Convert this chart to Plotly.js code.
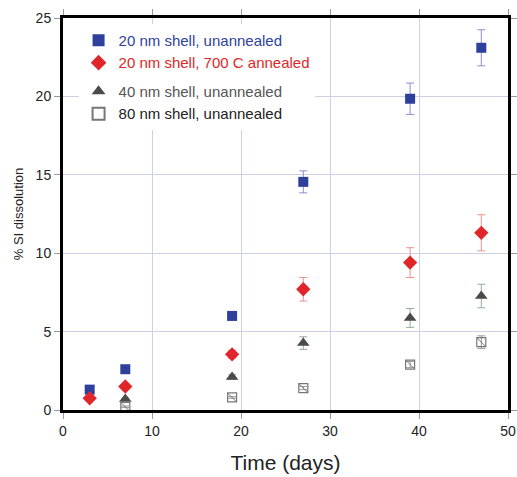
<!DOCTYPE html>
<html><head><meta charset="utf-8">
<script src="https://cdn.plot.ly/plotly-3.0.1.min.js"></script>
<style>html,body{margin:0;padding:0;background:#fff}</style>
</head><body><div id="chart" style="width:517px;height:477px"></div>
<script>
const days = [3, 7, 19, 27, 39, 47];
const days80 = [7, 19, 27, 39, 47];
const days40 = [7, 19, 27, 39, 47];
const s20un = [1.3, 2.6, 6.0, 14.55, 19.85, 23.1];
const s20unErr = [0.1, 0.1, 0.25, 0.7, 1.0, 1.15];
const s20an = [0.75, 1.5, 3.55, 7.7, 9.4, 11.3];
const s20anErr = [0.05, 0.1, 0.25, 0.75, 0.95, 1.15];
const s40un = [0.7, 2.1, 4.27, 5.87, 7.27];
const s40unErr = [0.05, 0.15, 0.4, 0.6, 0.75];
const s80un = [0.2, 0.8, 1.4, 2.9, 4.33];
const s80unErr = [0.05, 0.05, 0.1, 0.2, 0.4];

const font = "Liberation Sans, Arial, sans-serif";
function span(c, t){ return '<span style="color:' + c + '">' + t + '</span>'; }

const traces = [
  {x: days, y: s20un, type:'scatter', mode:'markers', name: span('#2e3f9c','20 nm shell, unannealed'),
   legendgroup:'a', marker:{symbol:'square', size:10, color:'#2e3f9c'},
   error_y:{type:'data', array:s20unErr, color:'#8a8fd0', thickness:1, width:4}},
  {x: days, y: s20an, type:'scatter', mode:'markers', name: span('#e0262a','20 nm shell, 700 C annealed'),
   legendgroup:'a', marker:{symbol:'diamond', size:11, color:'#e0262a'},
   error_y:{type:'data', array:s20anErr, color:'#f09090', thickness:1, width:4}},
  {x: days40, y: s40un, type:'scatter', mode:'markers', name: span('#555555','40 nm shell, unannealed'),
   legendgroup:'b', marker:{symbol:'triangle-up', size:11, color:'#4a4a4a'},
   error_y:{type:'data', array:s40unErr, color:'#90b090', thickness:1, width:4}},
  {x: days80, y: s80un, type:'scatter', mode:'markers', name: span('#222222','80 nm shell, unannealed'),
   legendgroup:'b', marker:{symbol:'square-open', size:9, color:'#777777', line:{width:1.2, color:'#777777'}},
   error_y:{type:'data', array:s80unErr, color:'#999999', thickness:1, width:4}},
  {x: days80, y: s80un, type:'scatter', mode:'markers', showlegend:false, legendgroup:'b', hoverinfo:'skip',
   marker:{symbol:'line-nw-open', size:8, color:'#777777', line:{width:1, color:'#777777'}}}
];

const layout = {
  width:517, height:477,
  margin:{l:63, r:9, t:18, b:67},
  paper_bgcolor:'#fff', plot_bgcolor:'#fff',
  font:{family:font, color:'#222'},
  showlegend:true,
  legend:{x:0.035, y:0.985, xanchor:'left', yanchor:'top', bgcolor:'#fff', borderwidth:0,
          font:{size:15, family:font}, traceorder:'grouped', tracegroupgap:6, itemsizing:'constant'},
  xaxis:{range:[0,50], tickvals:[0,10,20,30,40,50], showgrid:true, gridcolor:'#cfcfe8', gridwidth:1,
         showline:true, linecolor:'#000', linewidth:3, mirror:'allticks',
         ticks:'outside', ticklen:6, tickcolor:'#999', tickwidth:1,
         tickfont:{size:14, color:'#222'}, zeroline:false,
         title:{text:'Time (days)', font:{size:21, color:'#222'}, standoff:18}},
  yaxis:{range:[0,25], tickvals:[0,5,10,15,20,25], showgrid:true, gridcolor:'#cfcfe8', gridwidth:1,
         showline:true, linecolor:'#000', linewidth:3, mirror:'allticks',
         ticks:'outside', ticklen:6, tickcolor:'#999', tickwidth:1,
         tickfont:{size:14, color:'#222'}, zeroline:false,
         title:{text:'% SI dissolution', font:{size:13, color:'#222'}, standoff:10}}
};
Plotly.newPlot('chart', traces, layout, {displayModeBar:false, staticPlot:true});
</script></body></html>
